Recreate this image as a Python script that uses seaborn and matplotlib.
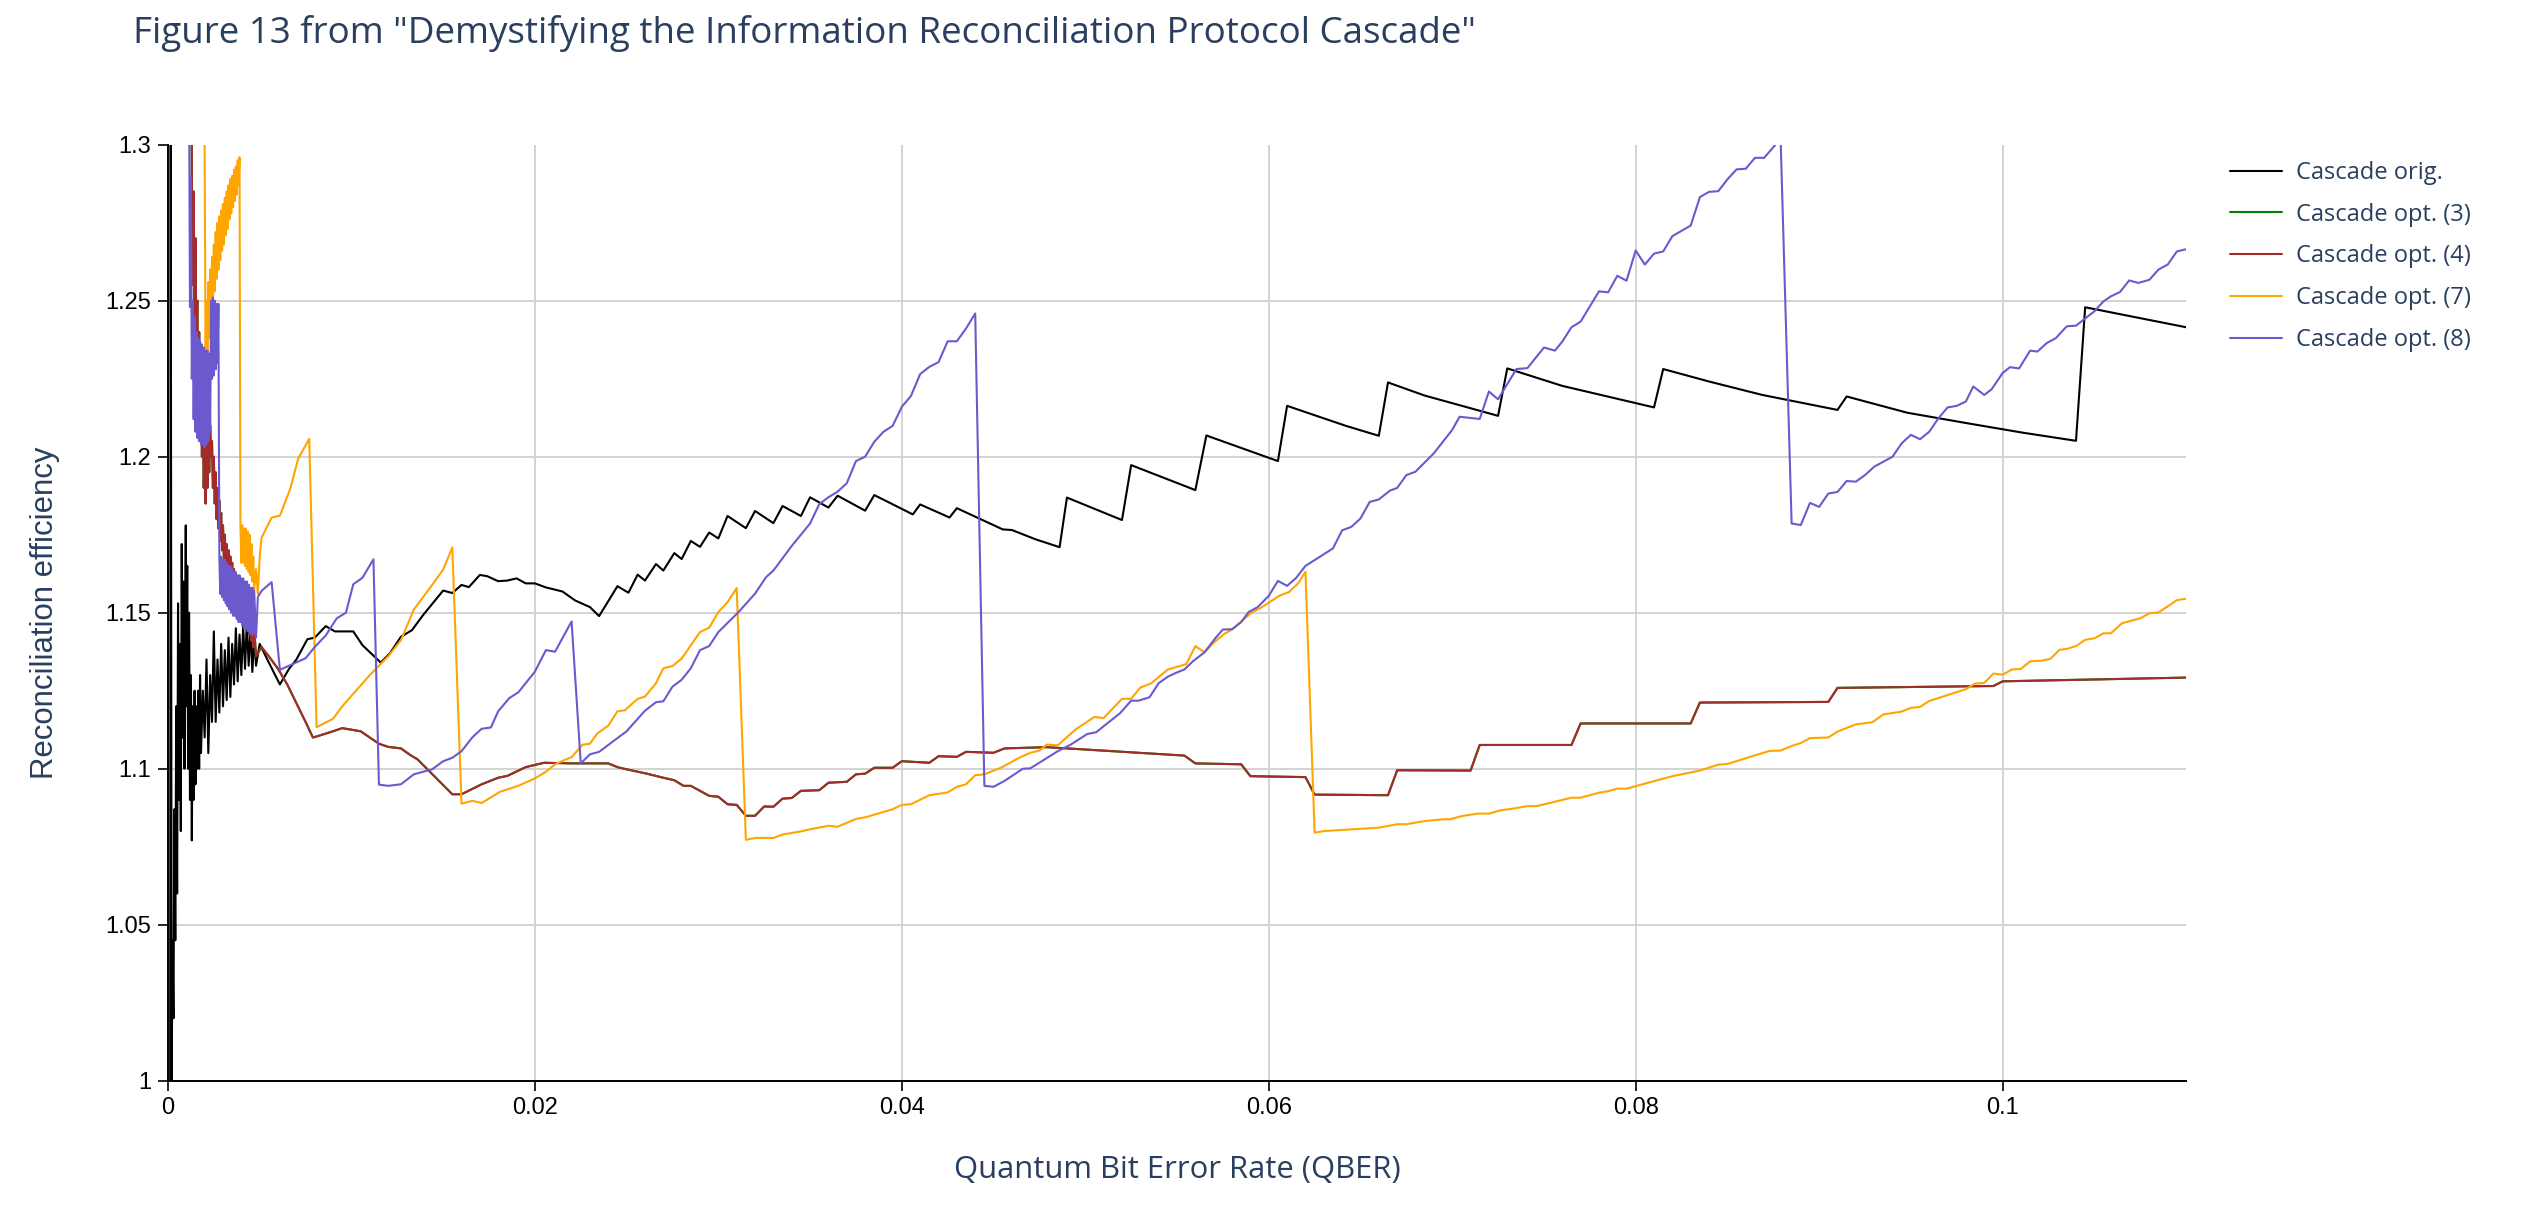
import matplotlib
matplotlib.use("Agg")
import matplotlib.pyplot as plt
import seaborn as sns

# Cascade orig. (black)
qber_orig = [0.00012, 0.00015, 0.0002, 0.00025, 0.0003, 0.00035, 0.0004, 0.00045, 0.0005, 0.00055,
             0.0006, 0.00065, 0.0007, 0.00075, 0.0008, 0.00085, 0.0009, 0.00097, 0.001, 0.00105,
             0.0011, 0.00115, 0.0012, 0.00125, 0.0013, 0.00135, 0.0014, 0.00145, 0.0015, 0.00155,
             0.0016, 0.00165, 0.0017, 0.00175, 0.0018, 0.0019, 0.002, 0.0021, 0.0022, 0.0023,
             0.0024, 0.0025, 0.0026, 0.0027, 0.0028, 0.0029, 0.003, 0.0031, 0.0032, 0.0033,
             0.0034, 0.0035, 0.0036, 0.0037, 0.0038, 0.0039, 0.004, 0.0041, 0.0042, 0.0043,
             0.0044, 0.0045, 0.0046, 0.0047, 0.0048, 0.005, 0.0055, 0.0061, 0.0066, 0.007,
             0.0076, 0.008, 0.0086, 0.0091, 0.0101, 0.0106, 0.0116, 0.0121,
             0.0127, 0.0133, 0.0139, 0.0150, 0.0155, 0.0160, 0.0164, 0.0170, 0.0174, 0.0180,
             0.0185, 0.0190, 0.0195, 0.0200, 0.0206, 0.0215, 0.0222, 0.0230, 0.0235, 0.0245,
             0.0251, 0.0256, 0.0260, 0.0266, 0.0270, 0.0276, 0.0280, 0.0285, 0.0290, 0.0295,
             0.0300, 0.0305, 0.0315, 0.0320, 0.0330, 0.0335, 0.0345, 0.0350, 0.0360, 0.0365,
             0.0380, 0.0385, 0.0406, 0.0410, 0.0426, 0.0430, 0.0455, 0.0460, 0.0473, 0.0486,
             0.0490, 0.0520, 0.0525, 0.0560, 0.0566, 0.0605, 0.0610, 0.0642, 0.0660, 0.0665,
             0.0685, 0.0725, 0.0730, 0.0760, 0.0810, 0.0815, 0.0840, 0.0869, 0.0910, 0.0915,
             0.0948, 0.0981, 0.1011, 0.1040, 0.1045, 0.1100]
eff_orig = [1.0, 1.31, 1.0, 1.045, 1.02, 1.087, 1.045, 1.12, 1.06, 1.153,
            1.09, 1.14, 1.08, 1.172, 1.11, 1.16, 1.1, 1.178, 1.12, 1.165,
            1.1, 1.15, 1.09, 1.13, 1.077, 1.12, 1.09, 1.125, 1.095, 1.12,
            1.1, 1.125, 1.1, 1.13, 1.105, 1.125, 1.11, 1.135, 1.105, 1.13,
            1.115, 1.144, 1.115, 1.135, 1.118, 1.14, 1.12, 1.138, 1.122, 1.142,
            1.123, 1.14, 1.127, 1.145, 1.128, 1.143, 1.13, 1.146, 1.132, 1.147,
            1.133, 1.145, 1.131, 1.142, 1.133, 1.14, 1.134, 1.127, 1.132, 1.135,
            1.1415, 1.142, 1.1457, 1.144, 1.144, 1.1396, 1.134, 1.137,
            1.1423, 1.1444, 1.1492, 1.1571, 1.1563, 1.1589, 1.1582, 1.1621, 1.1617, 1.1601,
            1.1603, 1.1610, 1.1594, 1.1594, 1.1581, 1.1568, 1.1539, 1.1518, 1.1489, 1.1585,
            1.1564, 1.1622, 1.1603, 1.1656, 1.1635, 1.1691, 1.1672, 1.1730, 1.1711, 1.1757,
            1.1738, 1.1810, 1.1771, 1.1826, 1.1787, 1.1842, 1.1810, 1.1870, 1.1837, 1.1875,
            1.1827, 1.1877, 1.1815, 1.1847, 1.1805, 1.1835, 1.1767, 1.1765, 1.1735, 1.1710,
            1.1869, 1.1797, 1.1973, 1.1893, 1.2068, 1.1986, 1.2163, 1.2099, 1.2067, 1.2238,
            1.2196, 1.2131, 1.2283, 1.2227, 1.2158, 1.2281, 1.2241, 1.2198, 1.2150, 1.2193,
            1.2141, 1.2107, 1.2077, 1.2051, 1.2479, 1.2415]

# Cascade opt. (4) (brown) - opt. (3) lies on top of it almost everywhere
qber_opt4 = [0.00128, 0.0013, 0.00135, 0.0014, 0.00145, 0.0015, 0.00155, 0.0016, 0.00165, 0.0017,
             0.00175, 0.0018, 0.00185, 0.0019, 0.00195, 0.002, 0.00205, 0.0021, 0.00215, 0.0022,
             0.00225, 0.0023, 0.00235, 0.0024, 0.00245, 0.0025, 0.00255, 0.0026, 0.00265, 0.0027,
             0.00275, 0.0028, 0.00285, 0.0029, 0.00295, 0.003, 0.00305, 0.0031, 0.00315, 0.0032,
             0.00325, 0.0033, 0.00335, 0.0034, 0.00345, 0.0035, 0.00355, 0.0036, 0.00365, 0.0037,
             0.00375, 0.0038, 0.00385, 0.0039, 0.00395, 0.004, 0.00405, 0.0041, 0.00415, 0.0042,
             0.00425, 0.0043, 0.00435, 0.0044, 0.00445, 0.0045, 0.00455, 0.0046, 0.00465, 0.0047,
             0.0048, 0.0051, 0.0055, 0.006, 0.0065, 0.007, 0.0075, 0.0079, 0.0082, 0.009,
             0.0095, 0.01, 0.0105, 0.011, 0.0115, 0.012,
             0.0127, 0.0132, 0.0136, 0.0155, 0.0160, 0.0171, 0.0180, 0.0185, 0.0195, 0.0205,
             0.0220, 0.0240, 0.0245, 0.0250, 0.0261, 0.0270, 0.0276, 0.0281, 0.0285, 0.0295,
             0.0300, 0.0305, 0.0310, 0.0315, 0.0320, 0.0325, 0.0330, 0.0335, 0.0340, 0.0345,
             0.0355, 0.0360, 0.0370, 0.0375, 0.0380, 0.0385, 0.0395, 0.0400, 0.0415, 0.0420,
             0.0430, 0.0435, 0.0450, 0.0456, 0.0479, 0.0529, 0.0554, 0.0560, 0.0585, 0.0590,
             0.0620, 0.0625, 0.0665, 0.0670, 0.0710, 0.0715, 0.0765, 0.0770, 0.0830, 0.0835,
             0.0905, 0.0910, 0.0995, 0.1000, 0.1100]
eff_opt4 = [1.36, 1.29, 1.255, 1.285, 1.245, 1.27, 1.235, 1.25, 1.22, 1.24,
            1.21, 1.225, 1.2, 1.215, 1.19, 1.205, 1.185, 1.21, 1.19, 1.206,
            1.195, 1.21, 1.2, 1.205, 1.19, 1.2, 1.185, 1.195, 1.18, 1.19,
            1.177, 1.186, 1.173, 1.182, 1.17, 1.178, 1.167, 1.175, 1.164, 1.172,
            1.162, 1.17, 1.16, 1.168, 1.158, 1.166, 1.156, 1.164, 1.155, 1.162,
            1.153, 1.16, 1.151, 1.158, 1.15, 1.156, 1.149, 1.155, 1.147, 1.153,
            1.146, 1.152, 1.145, 1.15, 1.143, 1.148, 1.141, 1.147, 1.139, 1.145,
            1.136, 1.139, 1.136, 1.132, 1.127, 1.121, 1.115, 1.11, 1.1105, 1.112,
            1.113, 1.1125, 1.112, 1.11, 1.108, 1.107,
            1.1065, 1.1044, 1.1030, 1.0918, 1.0918, 1.0950, 1.0971, 1.0977, 1.1005, 1.1019,
            1.1017, 1.1017, 1.1005, 1.0998, 1.0984, 1.0971, 1.0963, 1.0945, 1.0945, 1.0913,
            1.0910, 1.0886, 1.0884, 1.0849, 1.0849, 1.0879, 1.0878, 1.0904, 1.0906, 1.0929,
            1.0931, 1.0955, 1.0958, 1.0982, 1.0984, 1.1003, 1.1003, 1.1024, 1.1019, 1.1040,
            1.1038, 1.1054, 1.1051, 1.1065, 1.1069, 1.1051, 1.1042, 1.1017, 1.1014, 1.0976,
            1.0973, 1.0917, 1.0915, 1.0995, 1.0994, 1.1076, 1.1076, 1.1145, 1.1145, 1.1212,
            1.1214, 1.1259, 1.1265, 1.1280, 1.1292]
qber_opt3 = list(qber_opt4)
eff_opt3 = list(eff_opt4)

# Cascade opt. (7) (orange)
qber_opt7 = [0.00195, 0.00205, 0.0021, 0.00215, 0.0022, 0.00225, 0.0023, 0.00235, 0.0024, 0.00245,
             0.0025, 0.00255, 0.0026, 0.00265, 0.0027, 0.00275, 0.0028, 0.00285, 0.0029, 0.00295,
             0.003, 0.00305, 0.0031, 0.00315, 0.0032, 0.00325, 0.0033, 0.00335, 0.0034, 0.00345,
             0.0035, 0.00355, 0.0036, 0.00365, 0.0037, 0.00375, 0.0038, 0.00385, 0.0039, 0.00395,
             0.004, 0.00405, 0.0041, 0.00415, 0.0042, 0.00425, 0.0043, 0.00435, 0.0044, 0.00445,
             0.0045, 0.00455, 0.0046, 0.00465, 0.0047, 0.0048, 0.0049, 0.005, 0.0051, 0.00565,
             0.0061, 0.00666, 0.0071, 0.0077, 0.0081, 0.009, 0.0095, 0.011, 0.012,
             0.0127, 0.0134, 0.0144, 0.0150, 0.0155, 0.0160, 0.0166, 0.0171, 0.0181, 0.0191,
             0.0200, 0.0206, 0.0211, 0.0217, 0.0220, 0.0226, 0.0230, 0.0234, 0.0240, 0.0245,
             0.0249, 0.0256, 0.0260, 0.0266, 0.0270, 0.0275, 0.0280, 0.0286, 0.0290, 0.0295,
             0.0300, 0.0305, 0.0310, 0.0315, 0.0320, 0.0330, 0.0335, 0.0345, 0.0351, 0.0360,
             0.0365, 0.0375, 0.0380, 0.0395, 0.0400, 0.0405, 0.0415, 0.0425, 0.0430, 0.0435,
             0.0440, 0.0445, 0.0454, 0.0464, 0.0470, 0.0475, 0.0479, 0.0485, 0.0495, 0.0505,
             0.0510, 0.0520, 0.0525, 0.0530, 0.0536, 0.0545, 0.0555, 0.0560, 0.0565, 0.0570,
             0.0576, 0.0580, 0.0585, 0.0591, 0.0595, 0.0600, 0.0606, 0.0611, 0.0616, 0.0620,
             0.0625, 0.0630, 0.0660, 0.0670, 0.0675, 0.0685, 0.0695, 0.0699, 0.0705, 0.0714,
             0.0720, 0.0726, 0.0734, 0.0741, 0.0746, 0.0765, 0.0770, 0.0780, 0.0785, 0.0790,
             0.0795, 0.0820, 0.0835, 0.0845, 0.0850, 0.0863, 0.0873, 0.0879, 0.0885, 0.0890,
             0.0895, 0.0905, 0.0910, 0.0920, 0.0929, 0.0935, 0.0945, 0.0950, 0.0955, 0.0960,
             0.0971, 0.0980, 0.0985, 0.0990, 0.0995, 0.1000, 0.1005, 0.1010, 0.1015, 0.1021,
             0.1026, 0.1031, 0.1035, 0.1040, 0.1045, 0.1050, 0.1055, 0.1059, 0.1065, 0.1075,
             0.1080, 0.1085, 0.1095, 0.1100]
eff_opt7 = [1.36, 1.232, 1.25, 1.234, 1.256, 1.238, 1.26, 1.243, 1.264, 1.248,
            1.268, 1.253, 1.272, 1.257, 1.275, 1.26, 1.277, 1.263, 1.279, 1.266,
            1.281, 1.268, 1.283, 1.271, 1.285, 1.273, 1.287, 1.276, 1.289, 1.278,
            1.29, 1.28, 1.292, 1.282, 1.293, 1.284, 1.295, 1.287, 1.296, 1.178,
            1.166, 1.178, 1.166, 1.177, 1.165, 1.177, 1.164, 1.176, 1.163, 1.175,
            1.162, 1.172, 1.16, 1.168, 1.157, 1.164, 1.156, 1.168, 1.174, 1.1805,
            1.1811, 1.1896, 1.1994, 1.2057, 1.1133, 1.116, 1.12, 1.13, 1.136,
            1.1412, 1.1510, 1.1589, 1.1638, 1.1709, 1.0888, 1.0897, 1.0890, 1.0926, 1.0945,
            1.0969, 1.0990, 1.1014, 1.1030, 1.1037, 1.1077, 1.1080, 1.1113, 1.1138, 1.1184,
            1.1187, 1.1224, 1.1231, 1.1274, 1.1322, 1.1329, 1.1353, 1.1404, 1.1438, 1.1452,
            1.1502, 1.1534, 1.1579, 1.0772, 1.0778, 1.0778, 1.0789, 1.0799, 1.0807, 1.0817,
            1.0814, 1.0839, 1.0844, 1.0870, 1.0884, 1.0886, 1.0915, 1.0924, 1.0942, 1.0950,
            1.0979, 1.0982, 1.1003, 1.1035, 1.1051, 1.1058, 1.1077, 1.1075, 1.1127, 1.1166,
            1.1162, 1.1224, 1.1224, 1.1260, 1.1274, 1.1318, 1.1335, 1.1393, 1.1373, 1.1404,
            1.1433, 1.1446, 1.1472, 1.1502, 1.1513, 1.1532, 1.1555, 1.1566, 1.1594, 1.1631,
            1.0795, 1.0800, 1.0811, 1.0822, 1.0822, 1.0832, 1.0838, 1.0838, 1.0848, 1.0856,
            1.0856, 1.0866, 1.0873, 1.0880, 1.0880, 1.0907, 1.0907, 1.0923, 1.0928, 1.0936,
            1.0936, 1.0976, 1.0994, 1.1013, 1.1015, 1.1039, 1.1057, 1.1058, 1.1073, 1.1082,
            1.1098, 1.1100, 1.1119, 1.1142, 1.1149, 1.1174, 1.1183, 1.1195, 1.1198, 1.1217,
            1.1238, 1.1255, 1.1273, 1.1275, 1.1305, 1.1301, 1.1318, 1.1320, 1.1344, 1.1346,
            1.1352, 1.1381, 1.1384, 1.1393, 1.1413, 1.1418, 1.1434, 1.1434, 1.1466, 1.1482,
            1.1498, 1.1501, 1.1540, 1.1545]

# Cascade opt. (8) (slate blue)
qber_opt8 = [0.00112, 0.0012, 0.00125, 0.0013, 0.00135, 0.0014, 0.00145, 0.0015, 0.00155, 0.0016,
             0.00165, 0.0017, 0.00175, 0.0018, 0.00185, 0.0019, 0.00195, 0.002, 0.00205, 0.0021,
             0.00215, 0.0022, 0.00225, 0.0023, 0.00235, 0.0024, 0.00245, 0.0025, 0.00255, 0.0026,
             0.00265, 0.0027, 0.00275, 0.0028, 0.00285, 0.0029, 0.00295, 0.003, 0.00305, 0.0031,
             0.00315, 0.0032, 0.00325, 0.0033, 0.00335, 0.0034, 0.00345, 0.0035, 0.00355, 0.0036,
             0.00365, 0.0037, 0.00375, 0.0038, 0.00385, 0.0039, 0.00395, 0.004, 0.00405, 0.0041,
             0.00415, 0.0042, 0.00425, 0.0043, 0.00435, 0.0044, 0.00445, 0.0045, 0.00455, 0.0046,
             0.00465, 0.0047, 0.0048, 0.0049, 0.0051, 0.00565, 0.0061, 0.0066, 0.0075, 0.008,
             0.0086, 0.0092, 0.0097, 0.0101, 0.0106, 0.0112, 0.0115, 0.012,
             0.0127, 0.0134, 0.0144, 0.0150, 0.0155, 0.0160, 0.0166, 0.0171, 0.0176, 0.0180,
             0.0186, 0.0191, 0.0200, 0.0206, 0.0211, 0.0220, 0.0225, 0.0230, 0.0235, 0.0250,
             0.0260, 0.0266, 0.0270, 0.0275, 0.0280, 0.0285, 0.0290, 0.0295, 0.0300, 0.0311,
             0.0320, 0.0326, 0.0330, 0.0340, 0.0350, 0.0355, 0.0360, 0.0365, 0.0370, 0.0375,
             0.0380, 0.0385, 0.0390, 0.0395, 0.0400, 0.0405, 0.0410, 0.0415, 0.0420, 0.0425,
             0.0430, 0.0435, 0.0440, 0.0445, 0.0450, 0.0456, 0.0466, 0.0470, 0.0485, 0.0492,
             0.0501, 0.0506, 0.0510, 0.0519, 0.0525, 0.0529, 0.0535, 0.0540, 0.0545, 0.0549,
             0.0554, 0.0559, 0.0565, 0.0571, 0.0575, 0.0580, 0.0585, 0.0589, 0.0594, 0.0600,
             0.0605, 0.0610, 0.0615, 0.0620, 0.0635, 0.0640, 0.0645, 0.0650, 0.0655, 0.0660,
             0.0666, 0.0670, 0.0675, 0.0680, 0.0690, 0.0700, 0.0704, 0.0715, 0.0720, 0.0725,
             0.0735, 0.0741, 0.0750, 0.0756, 0.0760, 0.0765, 0.0770, 0.0780, 0.0785, 0.0790,
             0.0795, 0.0800, 0.0805, 0.0810, 0.0815, 0.0820, 0.0830, 0.0835, 0.0840, 0.0845,
             0.0850, 0.0855, 0.0860, 0.0865, 0.0870, 0.0874, 0.0879, 0.0885, 0.0890, 0.0895,
             0.0900, 0.0905, 0.0910, 0.0915, 0.0920, 0.0925, 0.0930, 0.0940, 0.0945, 0.0950,
             0.0955, 0.0960, 0.0965, 0.0970, 0.0975, 0.0980, 0.0984, 0.0990, 0.0994, 0.1000,
             0.1004, 0.1009, 0.1015, 0.1019, 0.1024, 0.1029, 0.1035, 0.1040, 0.1050, 0.1055,
             0.1059, 0.1064, 0.1069, 0.1074, 0.1080, 0.1085, 0.1090, 0.1095, 0.1100]
eff_opt8 = [1.36, 1.248, 1.29, 1.225, 1.25, 1.212, 1.245, 1.208, 1.24, 1.206,
            1.238, 1.205, 1.237, 1.204, 1.236, 1.204, 1.235, 1.203, 1.234, 1.204,
            1.234, 1.205, 1.233, 1.208, 1.25, 1.225, 1.251, 1.226, 1.25, 1.228,
            1.249, 1.23, 1.249, 1.168, 1.156, 1.168, 1.155, 1.167, 1.154, 1.167,
            1.153, 1.166, 1.152, 1.165, 1.151, 1.165, 1.15, 1.164, 1.149, 1.163,
            1.149, 1.163, 1.148, 1.162, 1.147, 1.162, 1.147, 1.161, 1.146, 1.161,
            1.145, 1.16, 1.145, 1.16, 1.144, 1.159, 1.144, 1.158, 1.143, 1.158,
            1.143, 1.157, 1.142, 1.155, 1.157, 1.1598, 1.1317, 1.133, 1.1354, 1.139,
            1.1427, 1.1482, 1.15, 1.1591, 1.1612, 1.1671, 1.0949, 1.0945,
            1.0950, 1.0982, 1.0998, 1.1024, 1.1035, 1.1056, 1.1101, 1.1128, 1.1132, 1.1184,
            1.1226, 1.1245, 1.1311, 1.1380, 1.1375, 1.1472, 1.1017, 1.1046, 1.1054, 1.1120,
            1.1186, 1.1213, 1.1216, 1.1263, 1.1285, 1.1322, 1.1380, 1.1393, 1.1438, 1.1502,
            1.1561, 1.1614, 1.1635, 1.1714, 1.1786, 1.1848, 1.1870, 1.1888, 1.1915, 1.1986,
            1.2000, 1.2048, 1.2080, 1.2099, 1.2160, 1.2195, 1.2265, 1.2288, 1.2303, 1.2370,
            1.2370, 1.2411, 1.2459, 1.0945, 1.0942, 1.0961, 1.1000, 1.1001, 1.1056, 1.1077,
            1.1111, 1.1117, 1.1136, 1.1178, 1.1218, 1.1218, 1.1229, 1.1274, 1.1295, 1.1306,
            1.1318, 1.1346, 1.1373, 1.1419, 1.1446, 1.1447, 1.1470, 1.1502, 1.1518, 1.1554,
            1.1602, 1.1586, 1.1612, 1.1650, 1.1706, 1.1764, 1.1775, 1.1802, 1.1855, 1.1863,
            1.1891, 1.1900, 1.1941, 1.1952, 1.2011, 1.2086, 1.2128, 1.2121, 1.2209, 1.2184,
            1.2281, 1.2284, 1.2350, 1.2340, 1.2369, 1.2415, 1.2433, 1.2530, 1.2527, 1.2580,
            1.2564, 1.2661, 1.2616, 1.2651, 1.2658, 1.2707, 1.2741, 1.2832, 1.2849, 1.2851,
            1.2889, 1.2921, 1.2923, 1.2958, 1.2958, 1.2985, 1.3020, 1.1786, 1.1781, 1.1852,
            1.1839, 1.1882, 1.1887, 1.1922, 1.1920, 1.1941, 1.1968, 1.2000, 1.2043, 1.2070,
            1.2056, 1.2080, 1.2123, 1.2158, 1.2163, 1.2177, 1.2225, 1.2198, 1.2216, 1.2268,
            1.2287, 1.2283, 1.2340, 1.2337, 1.2364, 1.2380, 1.2418, 1.2420, 1.2466, 1.2498,
            1.2514, 1.2528, 1.2565, 1.2557, 1.2567, 1.2600, 1.2616, 1.2658, 1.2665]

series = [
    ("Cascade orig.", qber_orig, eff_orig, "black"),
    ("Cascade opt. (3)", qber_opt3, eff_opt3, "green"),
    ("Cascade opt. (4)", qber_opt4, eff_opt4, "brown"),
    ("Cascade opt. (7)", qber_opt7, eff_opt7, "orange"),
    ("Cascade opt. (8)", qber_opt8, eff_opt8, "slateblue"),
]

y_ticks = [1.0, 1.05, 1.1, 1.15, 1.2, 1.25, 1.3]
y_labels = ["1", "1.05", "1.1", "1.15", "1.2", "1.25", "1.3"]
x_ticks = [0, 0.02, 0.04, 0.06, 0.08, 0.1]
x_labels = ["0", "0.02", "0.04", "0.06", "0.08", "0.1"]

sns.set_theme(style="white")
plt.rcParams['font.family'] = ['Open Sans', 'DejaVu Sans']
text_color = '#2a3f5f'
arial_like = ['Liberation Sans', 'DejaVu Sans']

fig = plt.figure(figsize=(25.22, 12.08), dpi=100)
ax = fig.add_axes([0.0666, 0.1054, 0.8002, 0.7748])

for name, xs, ys, col in series:
    sns.lineplot(x=xs, y=ys, ax=ax, color=col, linewidth=1.5, sort=False,
                 estimator=None, label=name)

ax.set_xlim(0, 0.11)
ax.set_ylim(1.0, 1.3)
ax.set_xticks(x_ticks)
ax.set_xticklabels(x_labels)
ax.set_yticks(y_ticks)
ax.set_yticklabels(y_labels)
for lab in ax.get_xticklabels() + ax.get_yticklabels():
    lab.set_family(arial_like)
    lab.set_fontsize(17)
    lab.set_color('black')
ax.tick_params(axis='both', direction='out', length=7, width=1.2, color='black', pad=5,
               left=True, bottom=True)
ax.set_xlabel("")
ax.set_ylabel("")

ax.grid(True, color='#d3d3d3', linewidth=1.4)
ax.set_axisbelow(True)
ax.yaxis.get_gridlines()[-1].set_visible(False)
ax.xaxis.get_gridlines()[0].set_visible(False)

for side in ['top', 'right']:
    ax.spines[side].set_visible(False)
for side in ['left', 'bottom']:
    ax.spines[side].set_color('black')
    ax.spines[side].set_linewidth(1.4)

fig.text(1177 / 2522, 1 - 1170 / 1208, "Quantum Bit Error Rate (QBER)",
         fontsize=22.3, color=text_color, ha='center', va='center')
fig.text(45 / 2522, 1 - 612.7 / 1208, "Reconciliation efficiency", family=arial_like,
         fontsize=22.4, color=text_color, ha='center', va='center', rotation=90)

fig.text(133 / 2522, 1 - 34 / 1208,
         'Figure 13 from "Demystifying the Information Reconciliation Protocol Cascade"',
         fontsize=26.5, color=text_color, va='center', ha='left')

handles, labels = ax.get_legend_handles_labels()
ax.get_legend().remove()
leg = fig.legend(handles, labels, loc='upper left', bbox_to_anchor=(2230 / 2522, 1 - 161 / 1208),
                 frameon=False, fontsize=17, handlelength=2.2, handletextpad=0.6,
                 labelspacing=0.75, borderpad=0, borderaxespad=0)
for t in leg.get_texts():
    t.set_color(text_color)

fig.savefig("out.png", dpi=100)
